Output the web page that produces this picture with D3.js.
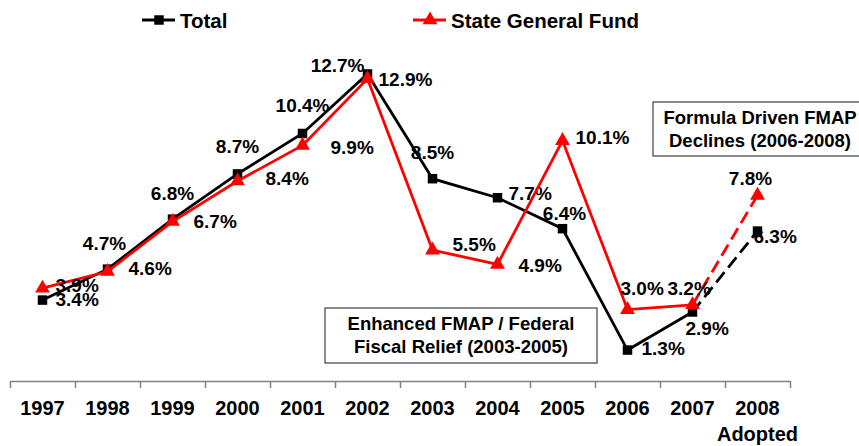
<!DOCTYPE html>
<html>
<head>
<meta charset="utf-8">
<script src="https://cdn.jsdelivr.net/npm/d3@7"></script>
<style>
  body { margin: 0; background: #fff; }
  text { font-family: Arial, "Liberation Sans", sans-serif; font-weight: bold; fill: #000; }
</style>
</head>
<body>
<div id="chart"></div>
<script>
var years = ["1997", "1998", "1999", "2000", "2001", "2002", "2003", "2004", "2005", "2006", "2007", "2008"];
var totalGrowth = [3.4, 4.7, 6.8, 8.7, 10.4, 12.9, 8.5, 7.7, 6.4, 1.3, 2.9, 6.3];
var sgfGrowth = [3.9, 4.6, 6.7, 8.4, 9.9, 12.7, 5.5, 4.9, 10.1, 3.0, 3.2, 7.8];

// label placement relative to each point [dx, dy, anchor]
var totalLabelPos = [[13, 6, "start"], [-3, -19, "middle"], [0, -19, "middle"], [0, -21, "middle"],
    [0, -21, "middle"], [11, 12, "start"], [0, -20, "middle"], [11, 2, "start"],
    [2, -9, "middle"], [14, 5, "start"], [-7, 23, "start"], [-4, 12, "start"]];
var sgfLabelPos = [[13, 4, "start"], [21, 3, "start"], [21, 6, "start"], [28, 4, "start"],
    [28, 9, "start"], [-3, -7, "end"], [20, 1, "start"], [21, 8, "start"],
    [13, 3, "start"], [-7, -15, "start"], [-25, -10, "start"], [-7, -10, "middle"]];

var width = 859, height = 446;
var svg = d3.select("#chart").append("svg").attr("width", width).attr("height", height);

var x = d3.scaleBand().domain(years).range([10, 790]);
var xEdge = d3.scaleLinear().domain([0, years.length]).range([10, 790]);
var y = d3.scaleLinear().domain([0, 15]).range([381, 24]);
var cx = function(i) { return x(years[i]) + x.bandwidth() / 2; };

// x axis with ticks between categories
var axis = svg.append("g")
    .attr("transform", "translate(0,381)")
    .call(d3.axisBottom(xEdge).ticks(years.length).tickFormat("").tickSize(7).tickSizeOuter(0));
axis.selectAll("path, line").attr("stroke", "#808080").attr("stroke-width", 1.5);

svg.append("g").selectAll("text")
    .data(years)
    .enter().append("text")
    .attr("x", function(d) { return x(d) + x.bandwidth() / 2; })
    .attr("y", 415)
    .attr("text-anchor", "middle")
    .style("font-size", "20px")
    .text(function(d) { return d; });
svg.append("text")
    .attr("x", cx(11)).attr("y", 441)
    .attr("text-anchor", "middle")
    .style("font-size", "20px")
    .text("Adopted");

function drawSeries(values, color, marker, labelPos) {
    var g = svg.append("g");
    var line = d3.line()
        .x(function(d) { return cx(d.i); })
        .y(function(d) { return y(d.v); });
    var pts = values.map(function(v, i) { return {i: i, v: v}; });
    g.append("path")
        .attr("d", line(pts.slice(0, 11)))
        .attr("fill", "none").attr("stroke", color).attr("stroke-width", 2.8);
    g.append("path")
        .attr("d", line(pts.slice(10)))
        .attr("fill", "none").attr("stroke", color).attr("stroke-width", 2.8)
        .attr("stroke-dasharray", "13,6");
    g.selectAll("path.mk")
        .data(pts)
        .enter().append("path")
        .attr("class", "mk")
        .attr("d", marker)
        .attr("fill", color)
        .attr("transform", function(d) { return "translate(" + cx(d.i) + "," + y(d.v) + ")"; });
    g.selectAll("text")
        .data(pts)
        .enter().append("text")
        .attr("x", function(d) { return cx(d.i) + labelPos[d.i][0]; })
        .attr("y", function(d) { return y(d.v) + labelPos[d.i][1]; })
        .attr("text-anchor", function(d) { return labelPos[d.i][2]; })
        .style("font-size", "19px")
        .text(function(d) { return d.v.toFixed(1) + "%"; });
}

var square = d3.symbol().type(d3.symbolSquare).size(90);
var triangle = d3.symbol().type(d3.symbolTriangle).size(95);

drawSeries(totalGrowth, "#000", square, totalLabelPos);
drawSeries(sgfGrowth, "#ff0000", triangle, sgfLabelPos);

// legend
var legend = [
    {name: "Total", color: "#000", marker: square, x: 142},
    {name: "State General Fund", color: "#ff0000", marker: triangle, x: 413}
];
legend.forEach(function(l) {
    svg.append("line")
        .attr("x1", l.x).attr("x2", l.x + 33)
        .attr("y1", 20).attr("y2", 20)
        .attr("stroke", l.color).attr("stroke-width", 2.8);
    svg.append("path")
        .attr("d", l.marker())
        .attr("fill", l.color)
        .attr("transform", "translate(" + (l.x + 17) + ",20)");
    svg.append("text")
        .attr("x", l.x + 38).attr("y", 28)
        .style("font-size", "20.5px")
        .text(l.name);
});

// annotation boxes
var notes = [
    {lines: ["Formula Driven FMAP", "Declines (2006-2008)"], x: 653, y: 102, w: 210, h: 54},
    {lines: ["Enhanced FMAP / Federal", "Fiscal Relief (2003-2005)"], x: 325, y: 308, w: 272, h: 55}
];
notes.forEach(function(n) {
    svg.append("rect")
        .attr("x", n.x).attr("y", n.y)
        .attr("width", n.w).attr("height", n.h)
        .attr("fill", "#fff").attr("stroke", "#404040").attr("stroke-width", 1.2);
    n.lines.forEach(function(t, k) {
        svg.append("text")
            .attr("x", n.x + (n.w > 250 ? n.w / 2 : 107))
            .attr("y", n.y + 22 + k * 23)
            .attr("text-anchor", "middle")
            .style("font-size", "18.5px")
            .text(t);
    });
});
</script>
</body>
</html>
